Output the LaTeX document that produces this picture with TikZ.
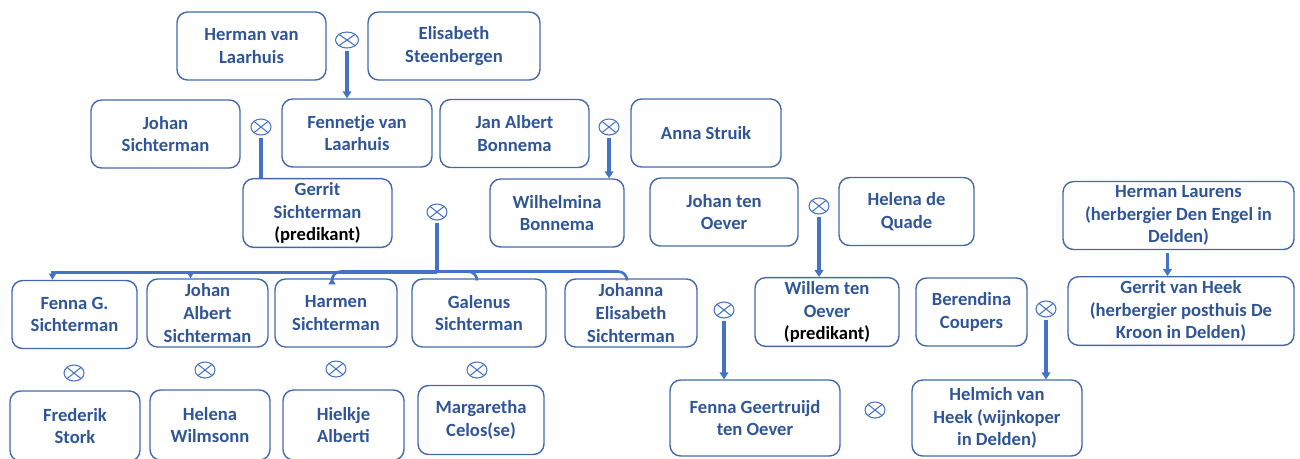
\documentclass[tikz,border=0pt]{standalone}
\usepackage{fontspec}
\setmainfont{Carlito}
\usepackage{tikz}
\usetikzlibrary{arrows.meta,positioning,shapes.geometric,calc}
\definecolor{famblue}{RGB}{47,85,151}
\definecolor{boxblue}{RGB}{68,104,172}
\definecolor{linkblue}{RGB}{68,114,196}
\tikzset{
    person/.style = {draw=boxblue, line width=0.8pt, rounded corners=6pt,
            minimum height=1.36cm, inner sep=2pt, align=center,
            text=famblue, font=\fontsize{10.6}{13}\selectfont\bfseries},
    wed/.style    = {ellipse, draw=linkblue, line width=0.6pt,
            minimum width=0.4cm, minimum height=0.32cm, inner sep=0pt,
            path picture={\draw[linkblue, line width=0.6pt]
                (path picture bounding box.north west) -- (path picture bounding box.south east)
                (path picture bounding box.south west) -- (path picture bounding box.north east);}},
    line/.style   = {-{Triangle[width=5pt,length=4pt]}, line width=2.2pt, draw=linkblue, shorten <=1.5pt},
    plain/.style  = {line width=2.2pt, draw=linkblue, shorten <=1.5pt},
    bus/.style    = {line width=1.5pt, draw=linkblue},
    busarrow/.style = {bus, -{Triangle[width=4pt,length=3.5pt]}},
}
\newcommand{\pred}{\textcolor{black}{(predikant)}}

\begin{document}
\begin{tikzpicture}[x=0.02cm, y=-0.02cm]
    \useasboundingbox (0,0) rectangle (1300,458);
    \clip (0,0) rectangle (1300,458);
    % Nodes
    \node[person, minimum width=2.98cm] (hermanL) at (251.5,46) {Herman van\\Laarhuis};
    \node[person, minimum width=3.44cm] (elisabeth) at (454,46) {Elisabeth\\Steenbergen};
    \node[person, minimum width=2.98cm] (johanS) at (165.5,134) {Johan\\Sichterman};
    \node[person, minimum width=3.0cm] (fennetje) at (357,133) {Fennetje van\\Laarhuis};
    \node[person, minimum width=2.98cm] (janAlbert) at (514.5,133.5) {Jan Albert\\Bonnema};
    \node[person, minimum width=3.0cm] (anna) at (706,133) {Anna Struik};
    \node[person, minimum width=2.98cm] (gerrit) at (317.5,213) {Gerrit\\Sichterman\\\pred};
    \node[person, minimum width=2.68cm] (wilhelmina) at (557,213) {Wilhelmina\\Bonnema};
    \node[person, minimum width=2.96cm] (johanO) at (724,212) {Johan ten\\Oever};
    \node[person, minimum width=2.7cm] (helena) at (906.5,211.5) {Helena de\\Quade};
    \node[person, minimum width=4.62cm] (laurens) at (1178.5,215.5) {Herman Laurens\\(herbergier Den Engel in\\Delden)};
    \node[person, minimum width=4.52cm] (vanHeek) at (1181,311) {Gerrit van Heek\\(herbergier posthuis De\\Kroon in Delden)};
    \node[person, minimum width=2.5cm] (fennaG) at (74.5,314.5) {Fenna G.\\Sichterman};
    \node[person, minimum width=2.42cm] (johanA) at (207.5,313) {Johan\\Albert\\Sichterman};
    \node[person, minimum width=2.44cm] (harmen) at (336,313) {Harmen\\Sichterman};
    \node[person, minimum width=2.68cm] (galenus) at (479,313) {Galenus\\Sichterman};
    \node[person, minimum width=2.64cm] (johanna) at (631,313) {Johanna\\Elisabeth\\Sichterman};
    \node[person, minimum width=2.88cm] (willem) at (827,312) {Willem ten\\Oever\\\pred};
    \node[person, minimum width=2.22cm] (berendina) at (971.5,312) {Berendina\\Coupers};
    \node[person, minimum width=2.6cm, minimum height=1.4cm] (frederik) at (75,426) {Frederik\\Stork};
    \node[person, minimum width=2.4cm, minimum height=1.4cm] (helenaW) at (210,425) {Helena\\Wilmsonn};
    \node[person, minimum width=2.42cm, minimum height=1.4cm] (hielkje) at (343.5,425) {Hielkje\\Alberti};
    \node[person, minimum width=2.52cm, minimum height=1.38cm] (margaretha) at (481,420) {Margaretha\\Celos(se)};
    \node[person, minimum width=3.4cm, minimum height=1.52cm] (fennaGT) at (755,418) {Fenna Geertruijd\\ten Oever};
    \node[person, minimum width=3.4cm, minimum height=1.52cm] (helmich) at (997,418) {Helmich van\\Heek (wijnkoper\\in Delden)};
    % Marriages
    \node[wed, minimum width=0.46cm] (m1) at (347,40) {};
    \node[wed] (m2) at (261,127) {};
    \node[wed] (m3) at (609,127) {};
    \node[wed] (m4) at (437,212) {};
    \node[wed] (m5) at (819,206) {};
    \node[wed] (m6) at (724,310) {};
    \node[wed] (m7) at (1046,309) {};
    \node[wed] (m8) at (74,373) {};
    \node[wed] (m9) at (205,370) {};
    \node[wed] (m10) at (336,369) {};
    \node[wed] (m11) at (477,370) {};
    \node[wed] (m12) at (875,410) {};
    % Arrows
    \draw[line] (m1.south) -- (m1.south |- fennetje.north);
    \draw[plain] (m2.south) -- (m2.south |- gerrit.north);
    \draw[line] (m3.south) -- (m3.south |- wilhelmina.north);
    \draw[line] (m5.south) -- (m5.south |- willem.north);
    \draw[line] (m6.south) -- (m6.south |- fennaGT.north);
    \draw[line] (m7.south) -- (m7.south |- helmich.north);
    \draw[line] ([xshift=-0.22cm]laurens.south) -- ([xshift=-0.22cm]laurens.south |- vanHeek.north);
    % children of Gerrit and Wilhelmina
    \coordinate (fork) at ($(m4.south)+(0,51)$);
    \draw[plain] (m4.south) -- (fork);
    \draw[busarrow] ($(fork)+(0,1)$) -| ($(fennaG.north)+(-22,0)$);
    \draw[busarrow] ($(fork)+(0,1)$) -| ($(johanA.north)+(-17,0)$);
    \draw[busarrow, rounded corners=5pt] (fork) -| ($(harmen.north)+(-4,0)$);
    \draw[bus, rounded corners=5pt] (fork) -| ($(galenus.north)+(-2,0)$);
    \draw[bus, rounded corners=5pt] (fork) -| ($(johanna.north)+(-4,0)$);
\end{tikzpicture}
\end{document}
